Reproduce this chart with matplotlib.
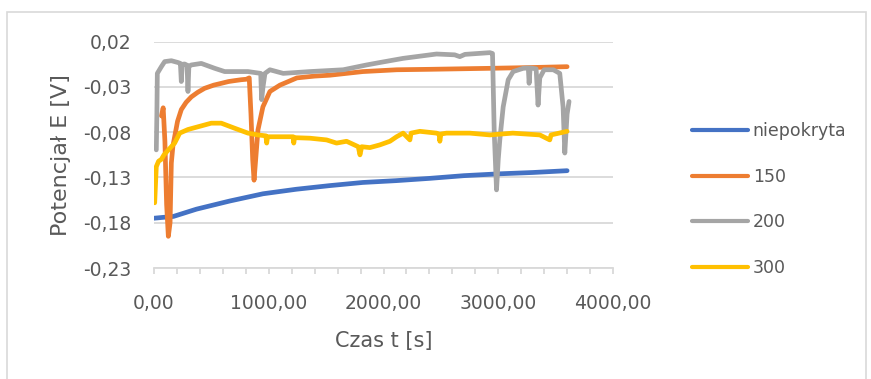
import matplotlib
matplotlib.use("Agg")
import matplotlib.pyplot as plt
from matplotlib.ticker import FuncFormatter, MultipleLocator, FixedLocator
from matplotlib.patches import Rectangle

# czas [s] i potencjał [V] dla każdej próbki
t_niepokryta = [0, 170, 370, 660, 950, 1240, 1530, 1820, 2110, 2400, 2700, 3000, 3300, 3600]
e_niepokryta = [-0.175, -0.173, -0.165, -0.156, -0.148, -0.143, -0.139, -0.1355, -0.1335,
                -0.131, -0.128, -0.126, -0.1245, -0.1225]

t_150 = [65, 80, 95, 110, 125, 140, 151, 165, 180, 205, 238, 280, 325, 380, 441, 520, 586,
         650, 703, 760, 804, 830, 845, 860, 872, 885, 906, 949, 1010, 1097, 1245, 1400,
         1533, 1820, 2116, 2404, 2927, 3300, 3600]
e_150 = [-0.062, -0.053, -0.090, -0.160, -0.195, -0.180, -0.114, -0.095, -0.085, -0.068,
         -0.055, -0.047, -0.041, -0.036, -0.0315, -0.028, -0.026, -0.024, -0.023, -0.022,
         -0.0215, -0.020, -0.060, -0.110, -0.133, -0.112, -0.0775, -0.052, -0.035, -0.028,
         -0.020, -0.018, -0.017, -0.013, -0.011, -0.0105, -0.0094, -0.0085, -0.0076]

t_200 = [20, 25, 29, 64, 93, 151, 209, 230, 238, 246, 267, 288, 296, 304, 325, 412, 529,
         616, 700, 819, 930, 938, 950, 967, 1010, 1126, 1359, 1649, 1852, 1968, 2171, 2462,
         2620, 2665, 2710, 2927, 2950, 2965, 2985, 3000, 3014, 3043, 3087, 3130, 3217,
         3262, 3269, 3278, 3330, 3347, 3362, 3400, 3480, 3536, 3565, 3580, 3600, 3617]
e_200 = [-0.0995, -0.060, -0.015, -0.0076, -0.002, -0.001, -0.003, -0.004, -0.024, -0.005,
         -0.0046, -0.006, -0.035, -0.007, -0.0057, -0.004, -0.0094, -0.013, -0.013, -0.013,
         -0.015, -0.044, -0.030, -0.015, -0.011, -0.015, -0.013, -0.011, -0.0057, -0.003,
         0.0016, 0.0064, 0.0055, 0.0035, 0.006, 0.0079, 0.007, -0.080, -0.1437, -0.110,
         -0.088, -0.052, -0.022, -0.013, -0.0094, -0.009, -0.026, -0.009, -0.010, -0.050,
         -0.020, -0.011, -0.011, -0.015, -0.052, -0.103, -0.060, -0.046]

t_300 = [6, 20, 40, 64, 87, 122, 180, 224, 296, 383, 499, 586, 703, 819, 906, 975, 982,
         990, 1039, 1213, 1218, 1225, 1359, 1504, 1591, 1678, 1780, 1795, 1810, 1881, 1968,
         2056, 2114, 2171, 2230, 2240, 2317, 2462, 2485, 2491, 2500, 2549, 2752, 2927,
         3127, 3362, 3449, 3460, 3600]
e_300 = [-0.158, -0.118, -0.112, -0.110, -0.105, -0.100, -0.092, -0.081, -0.077, -0.074,
         -0.070, -0.070, -0.0756, -0.081, -0.083, -0.084, -0.092, -0.085, -0.085, -0.085,
         -0.092, -0.086, -0.0866, -0.0885, -0.092, -0.090, -0.096, -0.105, -0.096, -0.097,
         -0.094, -0.090, -0.085, -0.081, -0.0885, -0.081, -0.079, -0.081, -0.082, -0.090,
         -0.082, -0.081, -0.081, -0.083, -0.081, -0.083, -0.0885, -0.083, -0.079]

y_ticks = [0.02, -0.03, -0.08, -0.13, -0.18, -0.23]

serie = [
    ("niepokryta", t_niepokryta, e_niepokryta, "#4472C4"),
    ("150", t_150, e_150, "#ED7D31"),
    ("200", t_200, e_200, "#A5A5A5"),
    ("300", t_300, e_300, "#FFC000"),
]

szary_tekst = "#595959"
siatka = "#D9D9D9"

fig = plt.figure(figsize=(8.71, 3.79), dpi=100)
ax = fig.add_axes([154 / 871, 1 - 268 / 379, (613 - 154) / 871, (268 - 41.7) / 379])

for nazwa, t, e, kolor in serie:
    ax.plot(t, e, color=kolor, lw=3.4, label=nazwa,
            solid_capstyle="round", solid_joinstyle="round")

ax.set_xlim(0, 4000)
ax.set_ylim(-0.23, 0.02)
ax.yaxis.set_major_locator(FixedLocator(y_ticks))
ax.xaxis.set_major_locator(MultipleLocator(1000))
ax.xaxis.set_minor_locator(MultipleLocator(200))

fmt = FuncFormatter(lambda v, pos: f"{v:.2f}".replace(".", ","))
ax.yaxis.set_major_formatter(fmt)
ax.xaxis.set_major_formatter(fmt)

ax.grid(axis="y", color=siatka, lw=1.3)
ax.set_axisbelow(True)
for s in ["top", "right", "left"]:
    ax.spines[s].set_visible(False)
ax.spines["bottom"].set_color(siatka)
ax.spines["bottom"].set_linewidth(1.3)

ax.tick_params(axis="y", length=0, pad=16, labelsize=13.5, labelcolor=szary_tekst)
ax.tick_params(axis="x", which="both", length=4, width=1.3, color=siatka,
               pad=15, labelsize=13.5, labelcolor=szary_tekst)

ax.set_xlabel("Czas t [s]", fontsize=15, color=szary_tekst, labelpad=13)
ax.set_ylabel("Potencjał E [V]", fontsize=16, color=szary_tekst, labelpad=9)

leg = fig.legend(loc="center left", bbox_to_anchor=(692 / 871, 1 - 199.5 / 379),
                 frameon=False, fontsize=12.5, handlelength=3.2, handletextpad=0.3,
                 labelspacing=1.58, borderpad=0, borderaxespad=0)
for txt in leg.get_texts():
    txt.set_color(szary_tekst)
for ln in leg.get_lines():
    ln.set_linewidth(3.0)
    ln.set_solid_capstyle("round")

# ramka wykresu
fig.patches.append(Rectangle((7 / 871, -0.05), (866 - 7) / 871, 1.05 - 12 / 379,
                             transform=fig.transFigure, fill=False,
                             edgecolor=siatka, lw=1.2))

fig.savefig("out.png", dpi=100)
